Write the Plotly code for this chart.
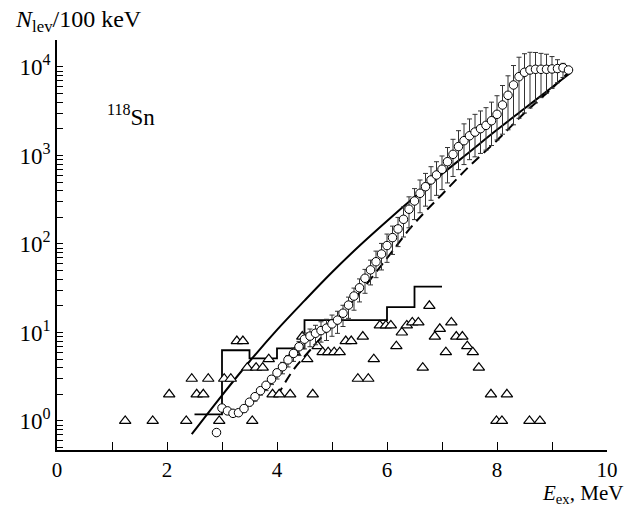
import plotly.graph_objects as go

# ---- level density per 100 keV (open circles with asymmetric errors) ----
e_lev = [3.0, 3.1, 3.2, 3.3, 3.4, 3.5, 3.6, 3.7, 3.8, 3.9,
         4.0, 4.1, 4.2, 4.3, 4.4, 4.5, 4.6, 4.7, 4.8, 4.9,
         5.0, 5.1, 5.2, 5.3, 5.4, 5.5, 5.6, 5.7, 5.8, 5.9,
         6.0, 6.1, 6.2, 6.3, 6.4, 6.5, 6.6, 6.7, 6.8, 6.9,
         7.0, 7.1, 7.2, 7.3, 7.4, 7.5, 7.6, 7.7, 7.8, 7.9,
         8.0, 8.1, 8.2, 8.3, 8.4, 8.5, 8.6, 8.7, 8.8, 8.9,
         9.0, 9.1, 9.2, 9.3]
n_lev = [1.40, 1.30, 1.22, 1.24, 1.38, 1.63, 1.88, 2.2, 2.53, 2.96,
         3.5, 4.1, 4.9, 5.8, 6.9, 8.4, 9.1, 9.8, 10.5, 11.2,
         12.5, 13.8, 16.5, 20.4, 25.8, 32, 41, 51, 63, 77,
         96, 118, 148, 190, 247, 306, 374, 444, 529, 602,
         699, 851, 1030, 1260, 1470, 1670, 1840, 2010, 2190, 2470,
         2920, 3720, 4790, 6260, 7770, 8710, 9250, 9420, 9420, 9420,
         9500, 9600, 9800, 9250]
# error bar extents in decades (upper / lower)
err_up_dex = [0, .01, .01, .01, .02, .02, .02, .03, .03, .04,
              .04, .05, .05, .06, .06, .07, .08, .09, .10, .10,
              .10, .10, .09, .09, .09, .10, .10, .11, .12, .12,
              .13, .13, .13, .14, .14, .14, .15, .15, .15, .15,
              .15, .16, .17, .18, .19, .19, .20, .20, .20, .21,
              .21, .22, .22, .22, .22, .21, .20, .19, .18, .17,
              .14, .10, .05, 0]
err_lo_dex = [0, .03, .03, .03, .04, .04, .05, .05, .06, .06,
              .07, .08, .08, .09, .10, .11, .12, .13, .13, .14,
              .14, .15, .15, .15, .16, .16, .17, .17, .18, .18,
              .19, .19, .20, .20, .21, .21, .22, .22, .23, .23,
              .23, .24, .25, .26, .27, .27, .28, .28, .28, .28,
              .29, .33, .39, .45, .47, .46, .43, .38, .32, .27,
              .22, .16, .11, 0]

# single low-lying point without error bar
e_lev_first = [2.9]
n_lev_first = [0.74]

# ---- known discrete levels per 100 keV (triangles) ----
e_disc = [1.24, 1.74, 2.04, 2.35, 2.45, 2.54, 2.66, 2.75, 2.95, 3.04,
          3.16, 3.27, 3.38, 3.46, 3.55, 3.62, 3.74, 3.85, 3.92, 4.04,
          4.24, 4.32, 4.46, 4.55, 4.65, 4.74, 4.83, 4.93, 5.04, 5.14,
          5.25, 5.35, 5.47, 5.56, 5.66, 5.76, 5.87, 5.98, 6.07, 6.17,
          6.27, 6.36, 6.46, 6.57, 6.65, 6.77, 6.87, 6.96, 7.07, 7.17,
          7.26, 7.37, 7.46, 7.56, 7.67, 7.89, 7.99, 8.09, 8.18, 8.59,
          8.78]
n_disc = [1, 1, 2, 1, 3, 2, 2, 3, 1, 3,
          3, 8, 8, 4, 1, 4, 4, 5, 2, 2,
          2, 6, 9, 5, 2, 7, 6, 6, 6, 6,
          8, 8, 3, 9, 3, 5, 12, 12, 12, 7,
          10, 12, 13, 13, 4, 20, 9, 11, 6, 13,
          9, 9, 7, 6, 4, 2, 1, 1, 2, 1,
          1]

# ---- histogram (step line) ----
e_hist = [2.5, 3.0, 3.5, 4.0, 4.5, 6.0, 6.5, 7.0]
n_hist = [1.19, 6.3, 5.1, 6.6, 13.8, 19.3, 33, 33]

# ---- model curves ----
e_model_solid = [2.45, 3.0, 3.5, 4.0, 4.5, 5.0, 5.5, 6.0, 6.5, 7.0, 7.5, 8.0, 8.5, 9.0, 9.35]
n_model_solid = [0.71, 1.95, 4.7, 10.7, 22.9, 47.9, 95.5, 182, 339, 617, 1096, 1950, 3390, 5890, 8710]
e_model_dash = [4.0, 4.3, 4.6, 5.0, 5.5, 6.0, 6.4, 6.7, 7.0, 7.5, 8.0, 8.5, 9.0, 9.35]
n_model_dash = [1.9, 3.8, 6.3, 12, 28, 69, 145, 234, 363, 759, 1480, 3020, 5750, 9330]

# tick labels
y_major = [1, 10, 100, 1000, 10000]
y_major_text = ["10<sup>0</sup>", "10<sup>1</sup>", "10<sup>2</sup>", "10<sup>3</sup>", "10<sup>4</sup>"]
x_major = [0, 2, 4, 6, 8, 10]

err_plus = [v * (10 ** u - 1) if u > 0 else None for v, u in zip(n_lev, err_up_dex)]
err_minus = [v * (1 - 10 ** (-d)) if d > 0 else None for v, d in zip(n_lev, err_lo_dex)]

SERIF = "Liberation Serif"

fig = go.Figure()

fig.add_trace(go.Scatter(x=e_hist, y=n_hist, mode="lines", line_shape="hv",
                         line=dict(color="black", width=1.8), hoverinfo="skip"))
fig.add_trace(go.Scatter(x=e_model_solid, y=n_model_solid, mode="lines", line_shape="spline",
                         line=dict(color="black", width=2), hoverinfo="skip"))
fig.add_trace(go.Scatter(x=e_model_dash, y=n_model_dash, mode="lines", line_shape="spline",
                         line=dict(color="black", width=2, dash="10px,6px"), hoverinfo="skip"))
fig.add_trace(go.Scatter(x=e_disc, y=n_disc, mode="markers",
                         marker=dict(symbol="triangle-up", size=10, color="white",
                                     line=dict(color="black", width=1.2))))
fig.add_trace(go.Scatter(x=e_lev, y=n_lev, mode="markers",
                         error_y=dict(type="data", symmetric=False, array=err_plus,
                                      arrayminus=err_minus, thickness=1, width=2.5,
                                      color="#333333"),
                         marker=dict(symbol="circle", size=8.5, color="white",
                                     line=dict(color="black", width=1))))
fig.add_trace(go.Scatter(x=e_lev_first, y=n_lev_first, mode="markers",
                         marker=dict(symbol="circle", size=8.5, color="white",
                                     line=dict(color="black", width=1))))

y_minor = [m * 10 ** k for k in range(-1, 5) for m in range(2, 10)]
y_minor = [v for v in y_minor if 0.47 < v < 20000]

fig.update_layout(
    width=630, height=506,
    margin=dict(l=57, r=23, t=40, b=56),
    plot_bgcolor="white", paper_bgcolor="white",
    showlegend=False,
    font=dict(family=SERIF, size=22, color="black"),
    xaxis=dict(range=[0, 10], tickmode="array", tickvals=x_major,
               ticks="inside", ticklen=8, tickwidth=1.3, tickcolor="black",
               showline=True, linewidth=1.5, linecolor="black",
               showgrid=False, zeroline=False,
               minor=dict(ticks="inside", ticklen=8, tickwidth=1.3, tickcolor="black",
                          dtick=1, showgrid=False),
               tickfont=dict(family=SERIF, size=21)),
    yaxis=dict(type="log", range=[-0.328, 4.305], tickmode="array",
               tickvals=y_major, ticktext=y_major_text,
               ticks="inside", ticklen=6, tickwidth=1.2, tickcolor="black",
               showline=True, linewidth=1.5, linecolor="black",
               showgrid=False, zeroline=False,
               minor=dict(ticks="inside", ticklen=6, tickwidth=1, tickcolor="black",
                          tickmode="array", tickvals=y_minor, showgrid=False),
               tickfont=dict(family=SERIF, size=23)),
    annotations=[
        dict(text="<i>N</i><sub>lev</sub>/100 keV", xref="paper", yref="paper",
             x=-0.08, y=1.046, xanchor="left", yanchor="middle", showarrow=False,
             font=dict(family=SERIF, size=24)),
        dict(text="<i>E</i><sub>ex</sub>, MeV", xref="paper", yref="paper",
             x=1.032, y=-0.108, xanchor="right", yanchor="middle", showarrow=False,
             font=dict(family=SERIF, size=21)),
        dict(text="<sup>118</sup>Sn", xref="paper", yref="paper",
             x=0.088, y=0.815, xanchor="left", yanchor="middle", showarrow=False,
             font=dict(family=SERIF, size=23)),
    ],
)

fig.write_html("out.html")
